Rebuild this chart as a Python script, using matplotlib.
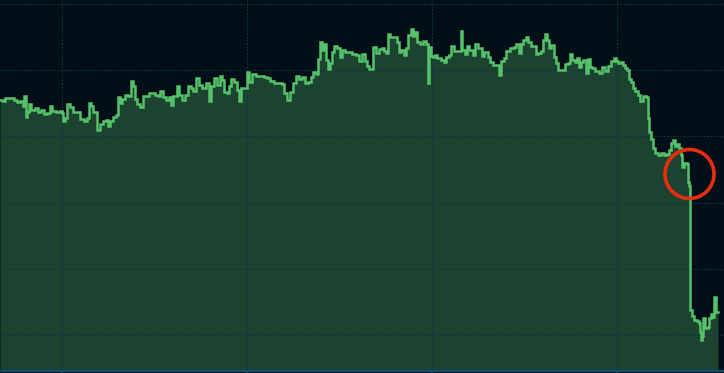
import matplotlib
matplotlib.use("Agg")
import matplotlib.pyplot as plt
from matplotlib.patches import Circle
import numpy as np

# time stamps (minutes) and price values
times = [0, 3, 5, 10, 14, 17, 20, 23, 24, 26, 27, 29, 31, 35, 38, 41, 44, 47, 50, 52,
         56, 60, 62, 63, 65, 67, 70, 73, 76, 80, 84, 87, 89, 91, 93, 97, 100, 103, 106, 108,
         110, 113, 116, 118, 120, 122, 125, 128, 131, 133, 135, 137, 140, 143, 146, 149, 152, 155, 158, 160,
         163, 166, 169, 171, 173, 177, 179, 182, 185, 188, 191, 193, 196, 199, 202, 206, 209, 211, 214, 217,
         220, 222, 224, 227, 229, 231, 234, 237, 239, 241, 244, 247, 249, 252, 256, 260, 264, 267, 270, 274,
         278, 282, 284, 287, 290, 293, 296, 299, 302, 305, 308, 311, 313, 316, 318, 320, 322, 324, 326, 328,
         330, 332, 334, 337, 340, 342, 345, 348, 352, 356, 359, 362, 365, 367, 369, 372, 373, 376, 379, 382,
         384, 386, 388, 390, 394, 397, 399, 401, 404, 406, 408, 411, 413, 415, 417, 420, 423, 426, 428, 429,
         431, 433, 435, 437, 441, 444, 446, 449, 451, 454, 458, 461, 462, 465, 467, 469, 473, 475, 478, 482,
         484, 488, 490, 493, 496, 499, 501, 504, 506, 510, 514, 516, 519, 521, 523, 526, 528, 531, 534, 536,
         538, 541, 543, 545, 547, 549, 551, 554, 556, 558, 562, 565, 568, 570, 572, 575, 577, 579, 581, 583,
         586, 588, 590, 592, 595, 599, 602, 605, 608, 611, 614, 616, 618, 621, 623, 625, 627, 629, 631, 633,
         635, 638, 640, 643, 646, 648, 649, 651, 653, 655, 658, 661, 664, 667, 669, 671, 673, 675, 677, 679,
         681, 682, 684, 687, 688, 689, 690, 692, 694, 697, 699, 700, 701, 702, 703, 705, 708, 709, 711, 713,
         714, 716, 718]

prices = [271, 270, 273, 273, 271, 269, 270, 265, 275, 254, 259, 267, 261, 263, 259, 261, 257, 258, 265, 260,
          259, 260, 258, 250, 253, 267, 264, 259, 259, 252, 250, 253, 268, 265, 259, 241, 247, 250, 251, 245,
          250, 254, 256, 274, 268, 272, 276, 275, 290, 285, 272, 267, 264, 275, 275, 278, 278, 276, 275, 280,
          274, 271, 274, 266, 275, 285, 276, 271, 276, 285, 283, 280, 293, 286, 283, 288, 270, 285, 293, 286,
          295, 291, 279, 278, 285, 292, 289, 281, 270, 283, 283, 299, 289, 297, 295, 295, 294, 293, 290, 288,
          288, 287, 278, 271, 279, 288, 295, 292, 294, 288, 289, 294, 299, 297, 312, 329, 321, 327, 311, 302,
          308, 319, 325, 323, 314, 321, 319, 319, 317, 316, 310, 317, 310, 305, 302, 302, 324, 318, 322, 323,
          320, 318, 337, 334, 334, 329, 319, 321, 316, 323, 336, 342, 335, 339, 329, 327, 330, 327, 288, 324,
          315, 314, 316, 313, 311, 309, 314, 316, 325, 320, 320, 340, 321, 317, 325, 321, 316, 327, 323, 315,
          319, 314, 309, 306, 306, 296, 310, 313, 320, 323, 324, 327, 318, 327, 331, 334, 329, 325, 325, 317,
          318, 320, 331, 337, 331, 323, 326, 314, 308, 301, 301, 307, 308, 317, 311, 309, 313, 304, 309, 311,
          298, 312, 304, 303, 300, 298, 304, 300, 305, 310, 313, 310, 308, 309, 306, 303, 301, 292, 289, 283,
          280, 276, 270, 275, 274, 253, 239, 232, 223, 218, 216, 218, 216, 217, 221, 228, 231, 225, 227, 223,
          216, 204, 208, 207, 189, 185, 61, 55, 51, 50, 48, 39, 31, 35, 53, 43, 44, 53, 57, 54,
          74, 59, 59]

grid_y = [36, 102.2, 168.4, 234.6, 300.8, 367]
grid_x = [62.3, 247.1, 431.9, 616.7]

BG = "#020f18"
FILL = "#1c4230"
LINE = "#55c26a"
GRID = "#0e3542"
AXIS = "#0b4f78"
RED = "#e82d0e"

W, H = 724, 373
fig = plt.figure(figsize=(W / 100, H / 100), dpi=100, facecolor=BG)
ax = fig.add_axes([0, 2 / H, 1, 371 / H])
ax.set_facecolor(BG)

t = np.array(times, dtype=float)
p = np.array(prices, dtype=float)

ax.fill_between(t, 0, p, step="post", color=FILL, lw=0, zorder=1)
ax.step(t, p, where="post", color=LINE, lw=1.8, zorder=3, solid_joinstyle="miter")

ax.set_xlim(0, W)
ax.set_ylim(0, 371)

ax.set_yticks(grid_y)
ax.set_xticks(grid_x)
ax.grid(True, color=GRID, lw=0.8, ls=(0, (1.5, 1.5)), zorder=2)
ax.set_axisbelow(False)
ax.tick_params(axis="y", left=False, labelleft=False)
ax.tick_params(axis="x", bottom=True, labelbottom=False, length=3, width=1.2, color=AXIS, direction="out")

for s in ["top", "left", "right"]:
    ax.spines[s].set_visible(False)
ax.spines["bottom"].set_color(AXIS)
ax.spines["bottom"].set_linewidth(1.5)

circ = Circle((689.5, 197), 24.5, fill=False, edgecolor=RED, lw=2.6, zorder=5)
ax.add_patch(circ)

fig.savefig("out.png", dpi=100, facecolor=BG)
